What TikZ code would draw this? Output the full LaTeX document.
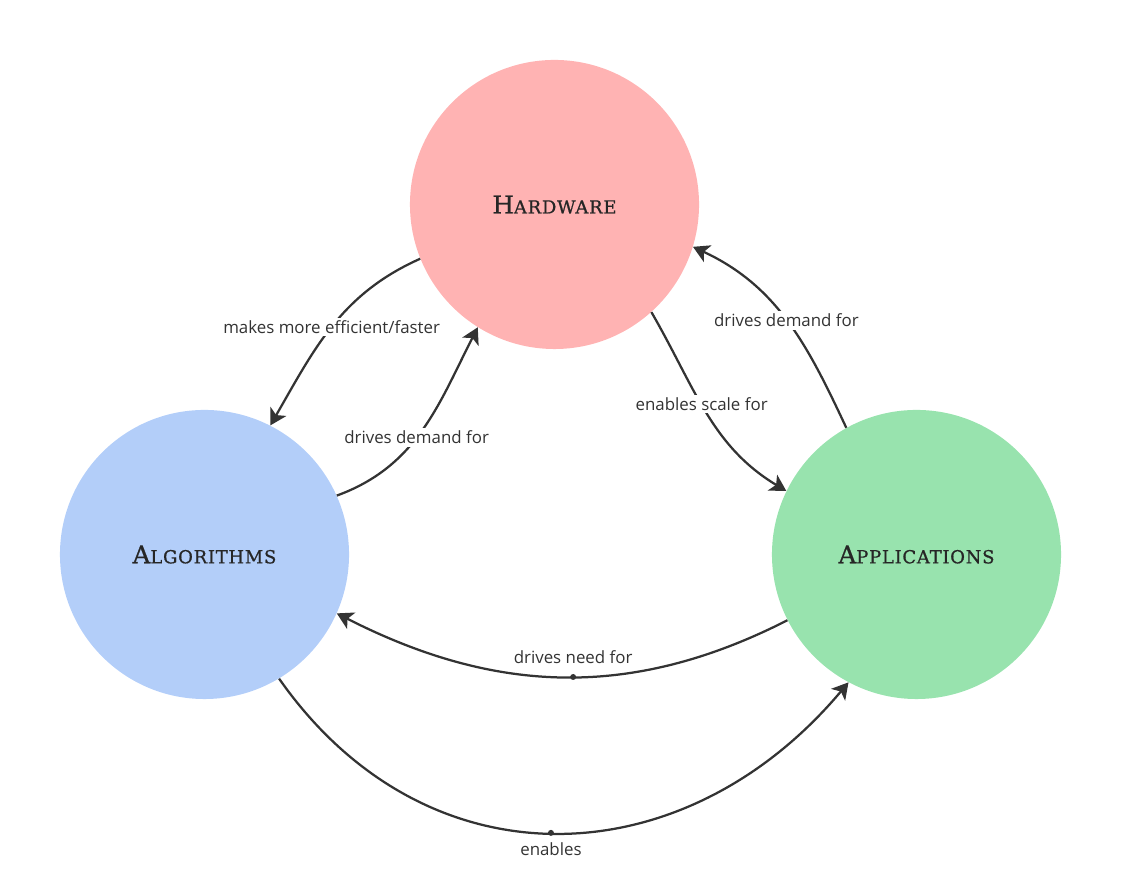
\documentclass[tikz,border=0pt]{standalone}
\usepackage{fontspec}
\setmainfont{Open Sans}
\newfontfamily\slabfont[LetterSpace=4,FakeBold=0.8]{DejaVu Serif}
\usetikzlibrary{arrows.meta}
\definecolor{hwpink}{RGB}{255,179,179}
\definecolor{algblue}{RGB}{179,206,249}
\definecolor{appgreen}{RGB}{152,227,174}
\definecolor{ink}{RGB}{51,51,51}
\newcommand{\FakeSc}[2]% first letter, rest
{{\slabfont\fontsize{17.5}{20}\selectfont #1}{\slabfont\fontsize{12.8}{15}\selectfont #2}}
\newcommand{\Topic}[4]% pos, name, colour, text
{\node[topic,fill=#3] (#2) at (#1) {\FakeSc#4};
}
\newcommand{\Link}[6]% from, to, out, in, pos, label
{\draw[link] (#1) to[out=#3,in=#4] node[lbl,pos=#5] {#6} (#2);
}

\begin{document}
\begin{tikzpicture}[x=0.025cm,y=0.025cm,
    topic/.style={circle,minimum size=7.225cm,inner sep=0,text=black!85},
    link/.style={draw=ink,line width=1.6pt,-{Stealth[length=11.5pt,width=13pt,inset=3pt]}},
    lbl/.style={fill=white,inner sep=2pt,text=ink,font=\fontsize{12}{14}\selectfont}]
  \useasboundingbox (0,0) rectangle (1121,891);
  \Topic{554.5,686.5}{hw}{hwpink}{{H}{ARDWARE}}
  \Topic{204.5,336.5}{alg}{algblue}{{A}{LGORITHMS}}
  \Topic{916.5,336.5}{app}{appgreen}{{A}{PPLICATIONS}}
  \Link{hw.202}{alg.63}{204}{60}{0.5}{makes more efficient/faster}
  \Link{alg.24}{hw.238}{20}{243}{0.45}{drives demand for}
  \Link{hw.312}{app.154}{300}{149}{0.45}{enables scale for}
  \Link{app.119}{hw.343}{115}{335}{0.5}{drives demand for}
  % the two long links carry their label beside the line
  \draw[link] (app.207) to[out=207,in=333] coordinate[pos=0.475] (needmid) (alg.336);
  \fill[ink] (needmid) circle (3);
  \node[lbl,fill=none,above=7pt] (needlbl) at (needmid) {drives need for};
  \draw[link] (alg.301) to[out=305,in=230,looseness=1.15] coordinate[pos=0.49] (enamid) (app.242);
  \fill[ink] (enamid) circle (3);
  \node[lbl,fill=none,below=5pt] (enalbl) at (enamid) {enables};
\end{tikzpicture}
\end{document}
